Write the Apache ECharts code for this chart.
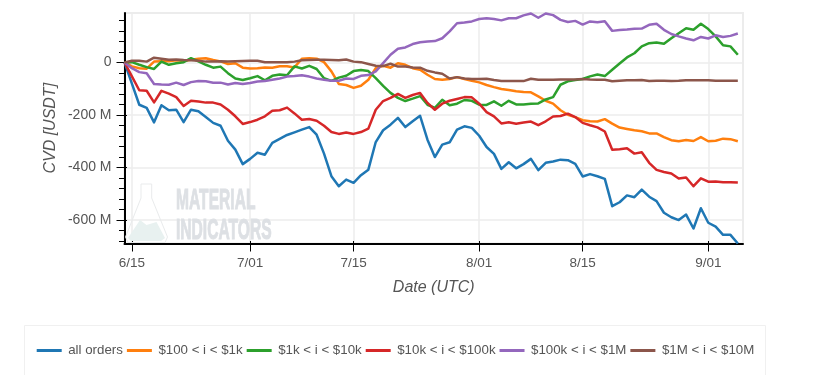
<!DOCTYPE html>
<html><head><meta charset="utf-8">
<style>html,body{margin:0;padding:0;background:#fff}#c{width:831px;height:375px}</style>
<script src="https://cdn.jsdelivr.net/npm/echarts@6/dist/echarts.min.js"></script>
</head><body><div id="c"></div>
<script>
// x = days since 6/14; values in millions of USDT
const tickDays = [1,17,31,48,62,79];
const tickLabels = ['6/15','7/01','7/15','8/01','8/15','9/01'];
const yMajor = [-600,-400,-200,0];
const yMinor = [-680,-640,-560,-520,-480,-440,-360,-320,-280,-240,-160,-120,-80,-40,40,80,120,160];
const names = ['all orders','$100 < i < $1k','$1k < i < $10k','$10k < i < $100k','$100k < i < $1M','$1M < i < $10M'];
const colors = ['#1f77b4','#ff7f0e','#2ca02c','#d62728','#9467bd','#8c564b'];
const allOrders = [0,-81,-161,-173,-228,-163,-182,-180,-227,-180,-186,-208,-230,-241,-298,-332,-387,-367,-344,-351,-306,-291,-276,-266,-256,-246,-275,-347,-433,-471,-446,-458,-429,-408,-303,-258,-237,-211,-246,-224,-203,-294,-360,-313,-304,-256,-243,-249,-279,-322,-348,-405,-380,-403,-387,-367,-410,-382,-377,-370,-372,-386,-434,-425,-433,-443,-547,-532,-506,-513,-484,-511,-528,-572,-589,-600,-579,-632,-555,-610,-625,-656,-656,-689];
const s100 = [0,-15,-22,-24,3,4,4,8,5,10,14,16,9,4,-6,-3,-20,-23,-22,-19,-20,-15,-15,-19,14,16,14,1,-34,-82,-86,-97,-89,-66,-22,-13,-20,-3,-9,-22,-28,-47,-63,-66,-63,-56,-63,-70,-76,-86,-94,-101,-105,-110,-113,-114,-129,-146,-157,-182,-199,-208,-220,-224,-225,-216,-233,-248,-253,-258,-262,-270,-270,-284,-296,-300,-295,-299,-284,-300,-298,-290,-292,-300];
const s1k = [0,1,-9,-18,-25,3,-9,-3,1,16,4,-9,-20,-16,-41,-61,-67,-60,-52,-68,-51,-46,-49,-15,-23,-13,-25,-60,-70,-58,-51,-33,-29,-33,-60,-89,-116,-135,-147,-138,-128,-161,-173,-142,-163,-157,-143,-146,-161,-162,-148,-165,-146,-160,-160,-157,-156,-141,-132,-85,-72,-67,-63,-53,-46,-52,-28,-4,19,35,61,73,76,71,92,111,130,124,147,127,99,65,61,29];
const s10k = [0,-53,-106,-108,-152,-108,-119,-132,-166,-146,-149,-153,-153,-160,-180,-205,-234,-227,-218,-205,-184,-182,-172,-194,-218,-215,-222,-241,-265,-272,-267,-272,-265,-252,-180,-147,-135,-120,-135,-124,-116,-154,-180,-157,-146,-139,-132,-133,-157,-189,-205,-232,-228,-233,-229,-225,-239,-224,-206,-204,-195,-208,-230,-239,-247,-263,-332,-330,-327,-347,-342,-382,-409,-417,-423,-442,-438,-471,-441,-454,-453,-456,-456,-457];
const s100k = [0,-22,-37,-41,-82,-84,-85,-77,-86,-75,-71,-72,-77,-77,-84,-78,-82,-78,-73,-71,-66,-61,-54,-52,-49,-54,-61,-66,-70,-70,-61,-63,-51,-48,-34,-3,29,52,57,70,77,80,81,92,118,149,152,156,165,168,165,160,168,168,179,186,170,186,180,162,154,158,144,156,153,157,120,123,125,128,129,143,147,124,108,99,91,84,97,91,103,97,101,110];
const s1m = [0,6,6,3,18,14,10,11,9,8,6,3,3,4,3,4,5,6,6,1,1,1,1,3,8,9,10,10,9,8,11,3,1,-6,-13,-14,-5,-16,-16,-19,-20,-32,-38,-43,-61,-56,-61,-63,-63,-62,-67,-71,-71,-71,-71,-62,-66,-66,-66,-65,-65,-65,-63,-65,-66,-66,-72,-70,-68,-68,-67,-71,-70,-70,-71,-70,-68,-68,-68,-68,-70,-70,-70,-70];
const seriesValues = [allOrders,s100,s1k,s10k,s100k,s1m];

const font = '"Liberation Sans", Arial, sans-serif';
const gridColor = '#ececec';
const wmColor = '#dde0e4';
const chart = echarts.init(document.getElementById('c'), null, {renderer:'canvas'});
chart.setOption({
  animation:false,
  backgroundColor:'#fff',
  grid:{left:124.5,right:88,top:13,bottom:131.5,show:true,borderColor:gridColor,borderWidth:2,backgroundColor:'transparent'},
  legend:{
    left:31.7,top:339,itemWidth:25,itemHeight:3,itemGap:4,icon:'rect',
    textStyle:{fontFamily:font,fontSize:13.3,color:'#555',padding:[0,0,0,1.5]},
    data:names
  },
  xAxis:[{
    type:'value',min:0,max:83.7,
    name:'Date (UTC)',nameLocation:'middle',nameGap:36,nameMoveOverlap:false,
    nameTextStyle:{fontFamily:font,fontSize:16,fontStyle:'italic',color:'#555'},
    axisLine:{show:true,onZero:false,lineStyle:{color:'#000',width:2}},
    axisTick:{show:true,length:8,customValues:tickDays,lineStyle:{color:'#000',width:1}},
    axisLabel:{fontFamily:font,fontSize:13.5,color:'#555',margin:13,customValues:tickDays,
      formatter:v=>tickLabels[tickDays.indexOf(v)]||''},
    splitLine:{show:true,lineStyle:{color:gridColor,width:1.5}}
  },{
    type:'value',min:0,max:83.7,position:'bottom',
    axisLine:{show:false,onZero:false},
    axisTick:{show:true,inside:true,length:2.5,customValues:tickDays,lineStyle:{color:'#000',width:1}},
    axisLabel:{show:false},splitLine:{show:false}
  }],
  yAxis:[{
    type:'value',min:-689,max:188,
    name:'CVD [USDT]',nameLocation:'middle',nameGap:66,nameMoveOverlap:false,
    nameTextStyle:{fontFamily:font,fontSize:16,fontStyle:'italic',color:'#555'},
    axisLine:{show:true,onZero:false,lineStyle:{color:'#000',width:2}},
    axisTick:{show:true,length:8,customValues:yMajor,lineStyle:{color:'#000',width:1}},
    axisLabel:{fontFamily:font,fontSize:14,color:'#555',margin:13,customValues:yMajor,
      formatter:v=>v===0?'0':v+' M'},
    splitLine:{show:true,lineStyle:{color:gridColor,width:1.5}}
  },{
    type:'value',min:-689,max:188,position:'left',
    axisLine:{show:false,onZero:false},
    axisTick:{show:true,length:5.5,customValues:yMinor,lineStyle:{color:'#000',width:1}},
    axisLabel:{show:false},splitLine:{show:false}
  },{
    type:'value',min:-689,max:188,position:'left',
    axisLine:{show:false,onZero:false},
    axisTick:{show:true,inside:true,length:2.5,customValues:yMajor,lineStyle:{color:'#000',width:1}},
    axisLabel:{show:false},splitLine:{show:false}
  }],
  series:names.map((n,k)=>({
    name:n,type:'line',showSymbol:false,symbol:'none',
    lineStyle:{color:colors[k],width:2.5,join:'round'},itemStyle:{color:colors[k]},
    data:seriesValues[k].map((v,i)=>[i,v]),z:5+k
  })),
  graphic:[
    {type:'rect',shape:{x:24.5,y:325.5,width:741,height:70},style:{fill:'#fff',stroke:'#f0f0f0',lineWidth:1},z:-1},
    {type:'text',x:176,y:186,scaleX:0.52,z:1,style:{text:'MATERIAL',font:'bold 30px "Liberation Sans"',fill:wmColor,stroke:wmColor,lineWidth:1}},
    {type:'text',x:176,y:216,scaleX:0.52,z:1,style:{text:'INDICATORS',font:'bold 30px "Liberation Sans"',fill:wmColor,stroke:wmColor,lineWidth:1}},
    {type:'polygon',z:1,shape:{points:[[128,238],[140,220],[146.5,225],[156.5,222],[165,238],[161,241],[131,241]]},style:{fill:'#e8f1f0'}},
    {type:'polyline',z:1,shape:{points:[[141,184],[141,198],[125.5,237],[128,242.5],[165,242.5],[167.5,237],[151.7,198],[151.7,184],[141,184]]},style:{fill:'none',stroke:'#e9ebec',lineWidth:1}}
  ]
});
</script></body></html>
